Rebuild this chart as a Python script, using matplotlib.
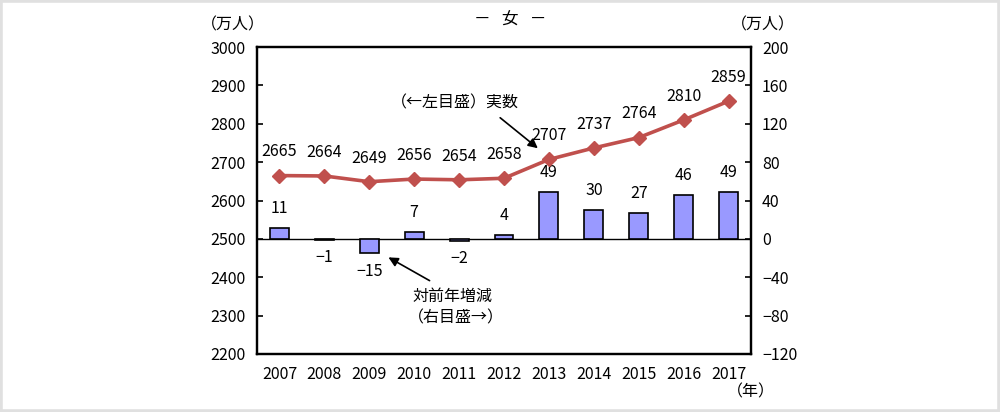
import matplotlib
matplotlib.use('Agg')
import matplotlib.pyplot as plt
from matplotlib.patches import Rectangle

plt.rcParams['font.family'] = ['Noto Sans CJK JP', 'DejaVu Sans']

# データ
years = ['2007', '2008', '2009', '2010', '2011', '2012', '2013', '2014', '2015', '2016', '2017']
jissu = [2665, 2664, 2649, 2656, 2654, 2658, 2707, 2737, 2764, 2810, 2859]
zougen = [11, -1, -15, 7, -2, 4, 49, 30, 27, 46, 49]

x = list(range(len(years)))
fs = 11.5

fig = plt.figure(figsize=(10, 4.12), dpi=100)
ax = fig.add_axes([0.257, 0.1408, 0.494, 0.745])
ax2 = ax.twinx()

# 対前年増減（右目盛）
ax2.bar(x, zougen, width=0.42, color='#9999ff', edgecolor='black', linewidth=1.2, zorder=2)
ax2.axhline(0, color='black', linewidth=1, zorder=1)
for xi, v in zip(x, zougen):
    if v >= 0:
        ax2.annotate(str(v), (xi, v), xytext=(0, 14), textcoords='offset points',
                     ha='center', va='center', fontsize=fs)
    else:
        ax2.annotate(str(v).replace('-', '−'), (xi, v), xytext=(0, -13), textcoords='offset points',
                     ha='center', va='center', fontsize=fs)

# 実数（左目盛）
ax.plot(x, jissu, color='#c0504d', linewidth=2.6, marker='D', markersize=7, zorder=3)
for xi, v in zip(x, jissu):
    ax.annotate(str(v), (xi, v), xytext=(0, 17), textcoords='offset points',
                ha='center', va='center', fontsize=fs)
ax.set_zorder(ax2.get_zorder() + 1)
ax.patch.set_visible(False)

ax.set_xlim(-0.5, 10.5)
ax.set_ylim(2200, 3000)
ax.set_yticks(range(2200, 3001, 100))
ax2.set_ylim(-120, 200)
ax2.set_yticks(range(-120, 201, 40))
ax2.set_yticklabels([str(t).replace('-', '−') for t in range(-120, 201, 40)])
ax.set_xticks(x)
ax.set_xticklabels(years)

ax.tick_params(axis='y', direction='in', length=4, width=1.2, labelsize=fs, pad=8)
ax2.tick_params(axis='y', direction='in', length=4, width=1.2, labelsize=fs, pad=8)
ax.tick_params(axis='x', length=0, labelsize=fs, pad=9)
for a in (ax, ax2):
    for s in a.spines.values():
        s.set_linewidth(1.6)

# 注記
ax.annotate('', xy=(540 / 1000, 1 - 150 / 412), xytext=(498 / 1000, 1 - 116 / 412),
            xycoords='figure fraction', textcoords='figure fraction',
            arrowprops=dict(arrowstyle='-|>', color='black', lw=1.2, mutation_scale=14))
fig.text(0.455, 1 - 103 / 412, '（←左目盛）実数', ha='center', va='center', fontsize=fs)

ax.annotate('', xy=(386 / 1000, 1 - 256 / 412), xytext=(432 / 1000, 1 - 282 / 412),
            xycoords='figure fraction', textcoords='figure fraction',
            arrowprops=dict(arrowstyle='-|>', color='black', lw=1.2, mutation_scale=14))
fig.text(0.452, 1 - 296 / 412, '対前年増減', ha='center', va='center', fontsize=fs)
fig.text(0.456, 1 - 318 / 412, '（右目盛→）', ha='center', va='center', fontsize=fs)

# タイトル・単位
fig.text(0.510, 1 - 20 / 412, '－   女   －', ha='center', va='center', fontsize=12)
fig.text(0.233, 1 - 25 / 412, '（万人）', ha='center', va='center', fontsize=fs)
fig.text(0.763, 1 - 25 / 412, '（万人）', ha='center', va='center', fontsize=fs)
fig.text(0.751, 1 - 392 / 412, '（年）', ha='center', va='center', fontsize=fs)

# 外枠
fig.patches.append(Rectangle((0, 0), 1, 1, transform=fig.transFigure, fill=False,
                             edgecolor='#e0e0e0', linewidth=4))

fig.savefig('out.png', dpi=100)
